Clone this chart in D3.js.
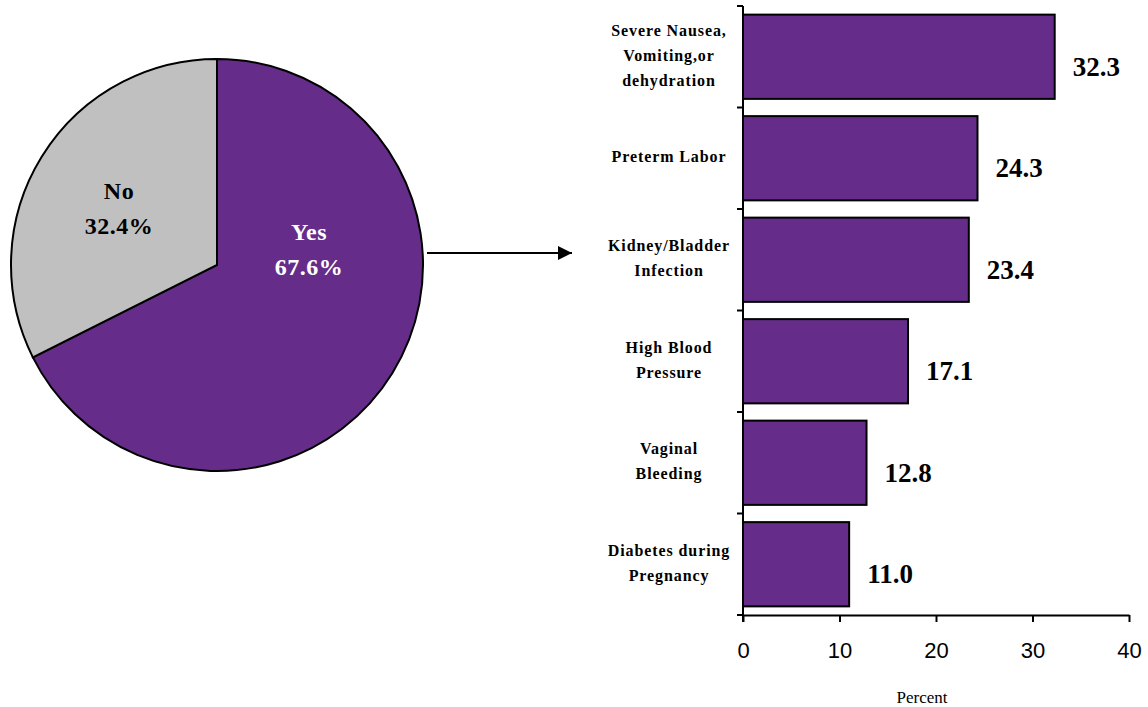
<!DOCTYPE html>
<html><head><meta charset="utf-8">
<script src="https://cdn.jsdelivr.net/npm/d3@7"></script>
<style>body{margin:0;background:#fff}svg{display:block}
.serif{font-family:"Liberation Serif","Times New Roman",serif}
.sans{font-family:"Liberation Sans",Arial,sans-serif}
</style>
</head><body>
<svg id="c" width="1148" height="707"></svg>
<script>
const pieLabels = ["Yes", "No"];
const pieValues = [67.6, 32.4];
const categories = [["Severe Nausea,", "Vomiting,or", "dehydration"], ["Preterm Labor"], ["Kidney/Bladder", "Infection"], ["High Blood", "Pressure"], ["Vaginal", "Bleeding"], ["Diabetes during", "Pregnancy"]];
const barValues = [32.3, 24.3, 23.4, 17.1, 12.8, 11.0];
const xTicks = [0, 10, 20, 30, 40];
const xTitle = "Percent";

const purple = "#652D89", gray = "#C0C0C0";
const svg = d3.select("#c");

// Pie
const cx = 217, cy = 265, R = 206;
const pie = d3.pie().sort(null).value(d => d)(pieValues);
const arc = d3.arc().innerRadius(0).outerRadius(R);
const pg = svg.append("g").attr("transform", `translate(${cx},${cy})`);
pg.selectAll("path").data(pie).join("path")
  .attr("d", arc)
  .attr("fill", (d, i) => i === 0 ? purple : gray)
  .attr("stroke", "#000").attr("stroke-width", 2);
const labelPos = [[92, -25], [-98, -66]];
pie.forEach((d, i) => {
  const t = pg.append("text").attr("class", "serif").attr("text-anchor", "middle")
    .attr("font-weight", "bold").attr("font-size", 24).attr("letter-spacing", 0.5)
    .attr("fill", i === 0 ? "#fff" : "#000");
  t.append("tspan").attr("x", labelPos[i][0]).attr("y", labelPos[i][1]).text(pieLabels[i]);
  t.append("tspan").attr("x", labelPos[i][0]).attr("y", labelPos[i][1] + 35).text(pieValues[i].toFixed(1) + "%");
});

// Arrow
svg.append("defs").append("marker").attr("id", "ah").attr("viewBox", "0 0 10 10")
  .attr("refX", 10).attr("refY", 5).attr("markerWidth", 14).attr("markerHeight", 14)
  .attr("markerUnits", "userSpaceOnUse").attr("orient", "auto")
  .append("path").attr("d", "M0,0L10,5L0,10Z").attr("fill", "#000");
svg.append("line").attr("x1", 427).attr("x2", 572).attr("y1", 253).attr("y2", 253)
  .attr("stroke", "#000").attr("stroke-width", 2).attr("marker-end", "url(#ah)");

// Bars
const x = d3.scaleLinear().domain([0, 40]).range([743, 1129]);
const y = d3.scaleBand().domain(d3.range(categories.length)).range([6, 615]).paddingInner(0.17).paddingOuter(0.085);
const bg = svg.append("g");
bg.selectAll("rect").data(barValues).join("rect")
  .attr("x", x(0)).attr("y", (d, i) => y(i))
  .attr("width", d => x(d) - x(0)).attr("height", y.bandwidth())
  .attr("fill", purple).attr("stroke", "#000").attr("stroke-width", 2);

// Y axis line and ticks at band boundaries
bg.append("line").attr("x1", x(0)).attr("x2", x(0)).attr("y1", 6).attr("y2", 622).attr("stroke", "#000").attr("stroke-width", 2);
d3.range(categories.length + 1).forEach(i => {
  const yy = 6 + i * (609 / categories.length);
  bg.append("line").attr("x1", x(0) - 6).attr("x2", x(0)).attr("y1", yy).attr("y2", yy).attr("stroke", "#000").attr("stroke-width", 2);
});

// X axis
const xa = svg.append("g").attr("transform", "translate(0,615)")
  .call(d3.axisBottom(x).tickValues(xTicks).tickSize(7).tickSizeOuter(0).tickPadding(20));
xa.select(".domain").attr("stroke-width", 2);
xa.selectAll(".tick line").attr("stroke-width", 2);
xa.selectAll(".tick text").attr("class", "sans").attr("font-family", null).attr("font-size", 22).attr("fill", "#000");

svg.append("text").attr("class", "serif").attr("x", 922).attr("y", 703).attr("text-anchor", "middle")
  .attr("font-size", 17).text(xTitle);

// Category labels
categories.forEach((lines, i) => {
  const c = y(i) + y.bandwidth() / 2 - 1;
  const t = svg.append("text").attr("class", "serif").attr("text-anchor", "middle")
    .attr("font-weight", "bold").attr("font-size", 16).attr("letter-spacing", 0.9);
  lines.forEach((l, j) => {
    t.append("tspan").attr("x", 669).attr("y", c + (j - (lines.length - 1) / 2) * 25 + 5).text(l);
  });
});

// Value labels
svg.selectAll(".val").data(barValues).join("text").attr("class", "val serif")
  .attr("x", d => x(d) + 18).attr("y", (d, i) => y(i) + y.bandwidth() / 2 + 19)
  .attr("font-weight", "bold").attr("font-size", 27)
  .text(d => d.toFixed(1));
</script>
</body></html>
